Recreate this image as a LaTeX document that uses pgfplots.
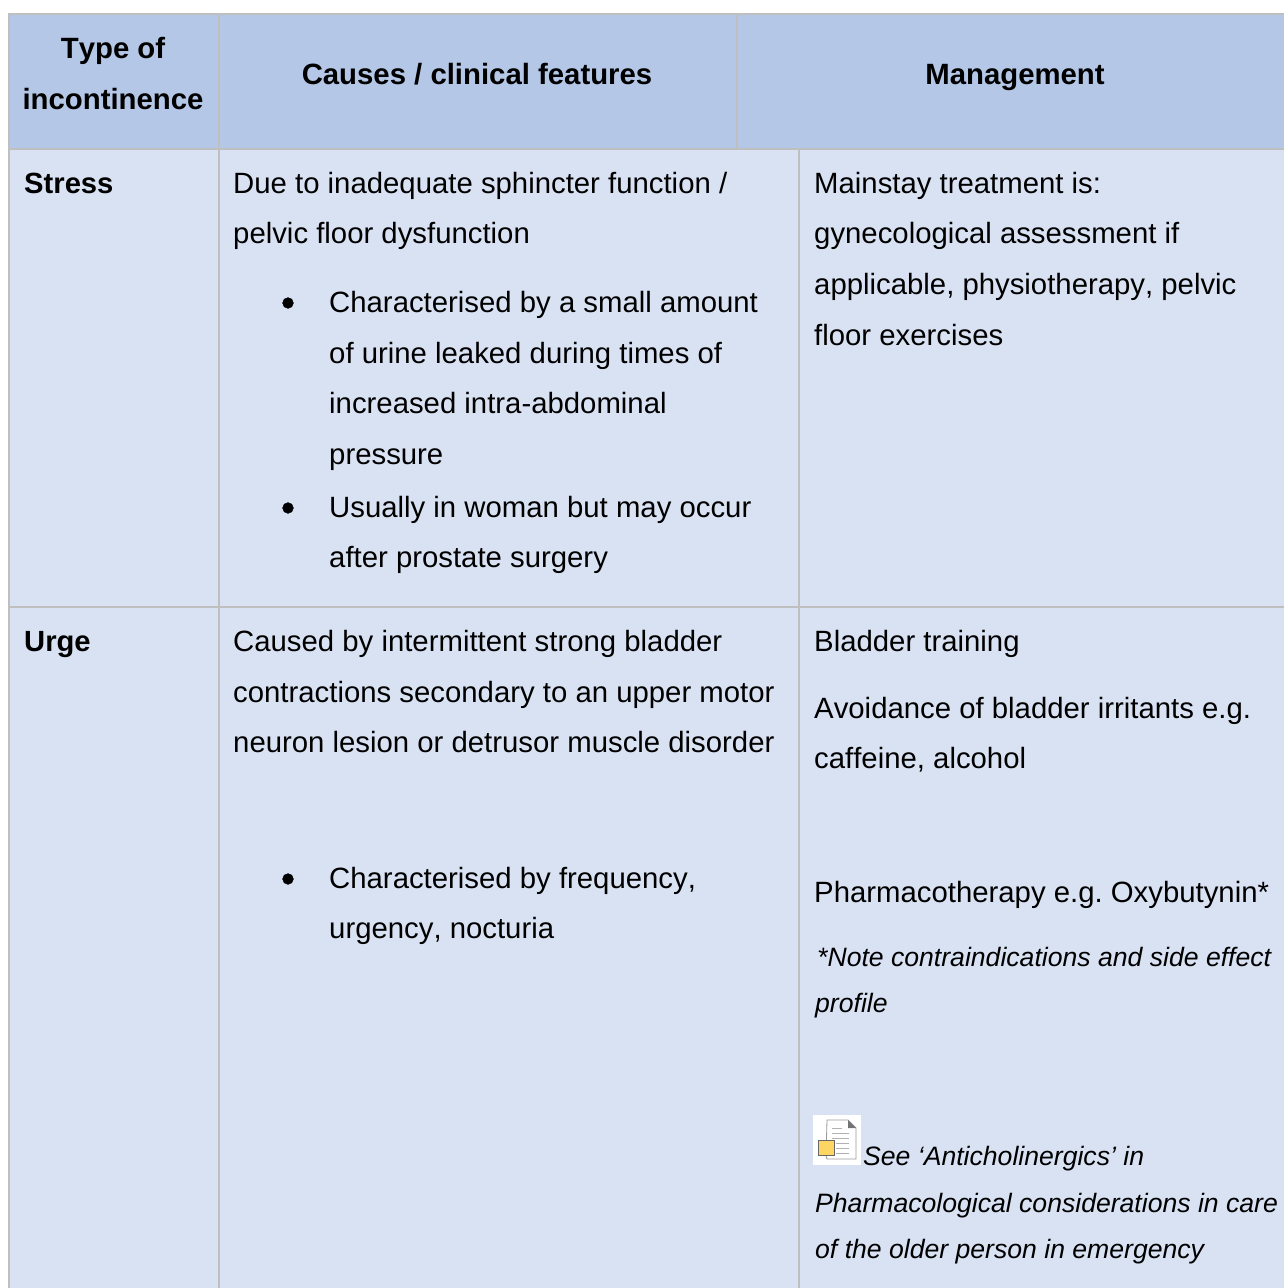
\documentclass[border=0pt]{standalone}
\usepackage{pgfplots}
\pgfplotsset{compat=1.18}
\usepackage{fontspec}
\setmainfont[Kerning=Off]{Liberation Sans}
\frenchspacing
\definecolor{hd}{HTML}{B4C7E7}
\definecolor{bd}{HTML}{D9E2F3}
\definecolor{ln}{HTML}{BFBFBF}
\newcommand{\T}[3]{\node[anchor=base west,inner sep=0pt,text=black] at (axis cs:#1,#2) {\frenchspacing\fontsize{29.33}{29.33}\selectfont #3};}
\newcommand{\TC}[3]{\node[anchor=base,inner sep=0pt,text=black] at (axis cs:#1,#2) {\frenchspacing\fontsize{29.33}{29.33}\selectfont\bfseries #3};}
\newcommand{\TB}[3]{\node[anchor=base west,inner sep=0pt,text=black] at (axis cs:#1,#2) {\frenchspacing\fontsize{29.2}{29.2}\selectfont\bfseries #3};}
\newcommand{\TI}[3]{\node[anchor=base west,inner sep=0pt,text=black] at (axis cs:#1,#2) {\frenchspacing\fontsize{26.6}{26.6}\selectfont\itshape #3};}
\begin{document}
\begin{tikzpicture}
\begin{axis}[
  width=1284pt,height=1288pt,scale only axis,
  xmin=0,xmax=1284,ymin=0,ymax=1288,y dir=reverse,
  hide axis,
]
% page
\addplot[fill=white,draw=none,forget plot] coordinates {(0,0)(1284,0)(1284,1288)(0,1288)} -- cycle;
% cell fills
\addplot[fill=hd,draw=none,forget plot] coordinates {(8,14)(1284,14)(1284,149)(8,149)} -- cycle;
\addplot[fill=bd,draw=none,forget plot] coordinates {(8,149)(1284,149)(1284,1288)(8,1288)} -- cycle;
% rules
\addplot[ln,line width=2pt,forget plot] coordinates {(8,14)(1284,14)};
\addplot[ln,line width=2pt,forget plot] coordinates {(8,149)(1284,149)};
\addplot[ln,line width=2pt,forget plot] coordinates {(8,607)(1284,607)};
\addplot[ln,line width=2pt,forget plot] coordinates {(9,14)(9,1288)};
\addplot[ln,line width=2pt,forget plot] coordinates {(219,14)(219,1288)};
\addplot[ln,line width=2pt,forget plot] coordinates {(737,14)(737,149)};
\addplot[ln,line width=2pt,forget plot] coordinates {(799,149)(799,1288)};
% bullets
\addplot[only marks,mark=*,mark size=5.4pt,mark options={fill=black,draw=black},forget plot] coordinates {(288,303)(288,508)(288,879)};
% icon
\addplot[fill=white,draw=none,forget plot] coordinates {(813,1115)(861,1115)(861,1165)(813,1165)} -- cycle;
\addplot[fill=white,draw=gray!80,line width=0.8pt,forget plot] coordinates {(827,1120)(848,1120)(856,1128)(856,1159)(827,1159)(826,1156)} -- cycle;
\addplot[fill=gray!90!black,draw=none,forget plot] coordinates {(848,1120)(856,1128)(848,1128)} -- cycle;
\addplot[gray!60,line width=1pt,forget plot] coordinates {(832,1128)(842,1128)};
\addplot[gray!60,line width=1pt,forget plot] coordinates {(832,1133)(849,1133)};
\addplot[gray!60,line width=1pt,forget plot] coordinates {(832,1138)(849,1138)};
\addplot[gray!60,line width=1pt,forget plot] coordinates {(836,1143)(849,1143)};
\addplot[gray!60,line width=1pt,forget plot] coordinates {(836,1148)(849,1148)};
\addplot[gray!60,line width=1pt,forget plot] coordinates {(836,1153)(849,1153)};
\addplot[fill=yellow!50!orange!60,draw=gray!80!black,line width=0.8pt,forget plot] coordinates {(818,1140)(834,1140)(834,1155)(818,1155)} -- cycle;
% header
\TC{113}{58}{Type of}
\TC{113}{109}{incontinence}
\TC{477}{84}{Causes / clinical features}
\TC{1015}{84}{Management}
% stress
\TB{24}{193}{Stress}
\T{233}{193}{Due to inadequate sphincter function /}
\T{233}{243}{pelvic floor dysfunction}
\T{329}{312}{Characterised by a small amount}
\T{329}{363}{of urine leaked during times of}
\T{329}{413}{increased intra-abdominal}
\T{329}{464}{pressure}
\T{329}{517}{Usually in woman but may occur}
\T{329}{567}{after prostate surgery}
\T{814}{193}{Mainstay treatment is:}
\T{814}{243}{gynecological assessment if}
\T{814}{294}{applicable, physiotherapy, pelvic}
\T{814}{345}{floor exercises}
% urge
\TB{24}{651}{Urge}
\T{233}{651}{Caused by intermittent strong bladder}
\T{233}{702}{contractions secondary to an upper motor}
\T{233}{752}{neuron lesion or detrusor muscle disorder}
\T{329}{888}{Characterised by frequency,}
\T{329}{938}{urgency, nocturia}
\T{814}{651}{Bladder training}
\T{814}{718}{Avoidance of bladder irritants e.g.}
\T{814}{768}{caffeine, alcohol}
\T{814}{902}{Pharmacotherapy e.g. Oxybutynin*}
\TI{817}{966}{*Note contraindications and side effect}
\TI{815}{1012}{profile}
\TI{863}{1165}{See ‘Anticholinergics’ in}
\TI{815}{1212}{Pharmacological considerations in care}
\TI{815}{1258}{of the older person in emergency}
\end{axis}
\end{tikzpicture}
\end{document}
